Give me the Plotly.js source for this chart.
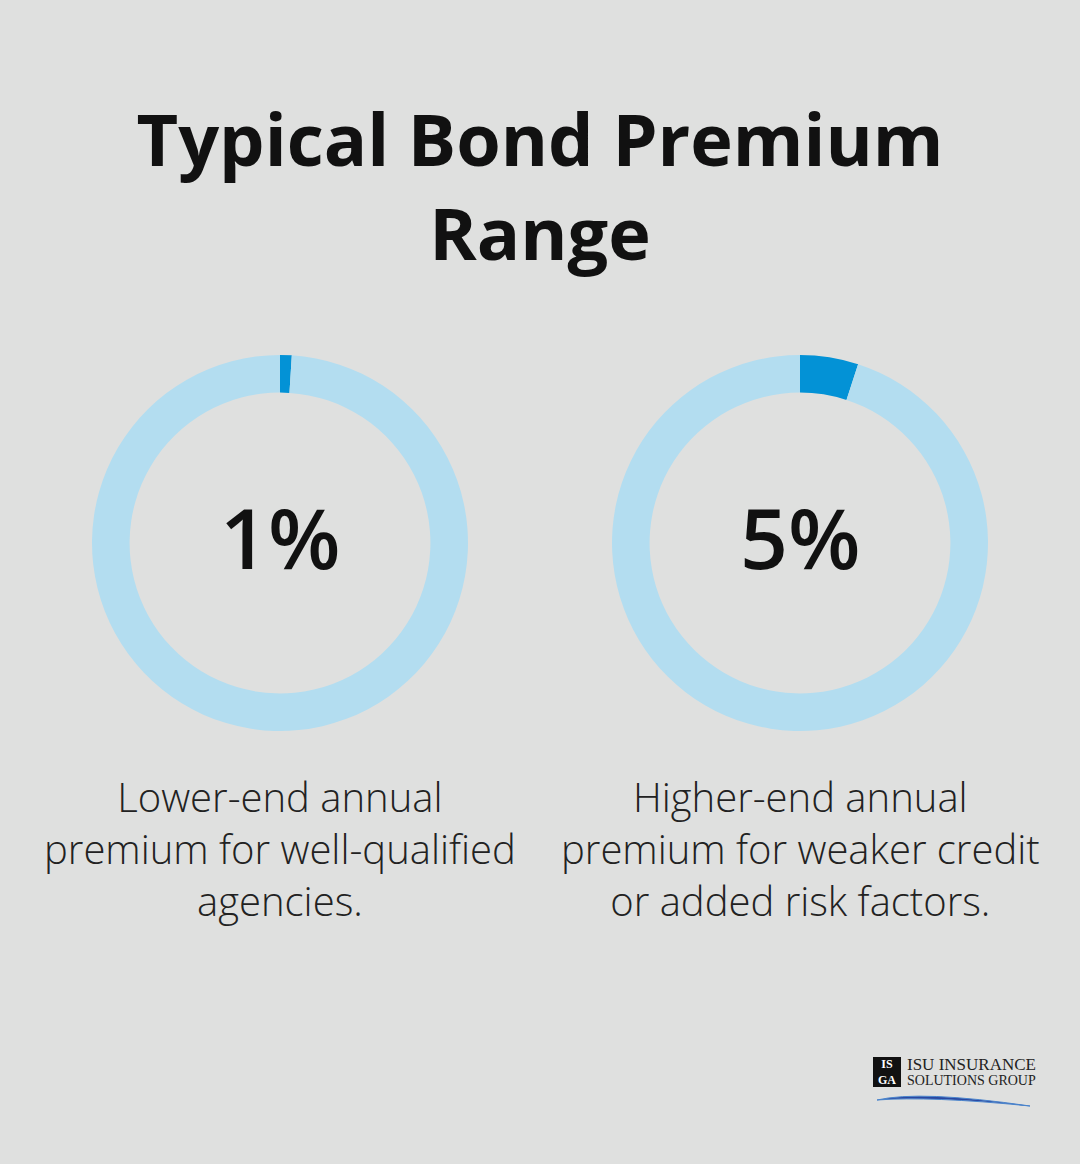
<!DOCTYPE html>
<html>
<head>
<meta charset="utf-8">
<script src="https://cdn.plot.ly/plotly-3.0.1.min.js"></script>
<style>
html,body{margin:0;padding:0;background:#dfe0df;}
#chart{width:1080px;height:1164px;}
</style>
</head>
<body>
<div id="chart"></div>
<script>
const chartTitle = "Typical Bond Premium<br>Range";
const metricLabels = ["1%", "5%"];
const premiumValues = [1, 5];
const remainderValues = [99, 95];
const descriptions = [
  "Lower-end annual<br>premium for well-qualified<br>agencies.",
  "Higher-end annual<br>premium for weaker credit<br>or added risk factors."
];
const sliceNames = ["Premium", "Remainder"];

const W = 1080, H = 1164;
const domainsX = [[92 / W, 468 / W], [612 / W, 988 / W]];
const domainY = [(H - 731) / H, (H - 355) / H];
const centersX = [280 / W, 800 / W];

const traces = premiumValues.map((v, i) => ({
  type: "pie",
  values: [v, remainderValues[i]],
  labels: sliceNames,
  sort: false,
  direction: "clockwise",
  rotation: 0,
  hole: 0.8,
  textinfo: "none",
  hoverinfo: "none",
  marker: { colors: ["#0392d6", "#b3ddf0"], line: { width: 0 } },
  domain: { x: domainsX[i], y: domainY },
  showlegend: false
}));

const annotations = [];
metricLabels.forEach((t, i) => {
  annotations.push({
    text: t, x: centersX[i], y: (H - 536) / H, xref: "paper", yref: "paper",
    showarrow: false, xanchor: "center", yanchor: "middle",
    font: { family: "Open Sans", size: 84, color: "#111111", weight: 600 }
  });
  annotations.push({
    text: descriptions[i], x: centersX[i], y: (H - 767) / H, xref: "paper", yref: "paper",
    showarrow: false, xanchor: "center", yanchor: "top", align: "center",
    font: { family: "Open Sans", size: 40, color: "#222222", weight: 300 }
  });
});

// logo
annotations.push({
  text: "ISU INSURANCE", x: 905 / W, y: (H - 1064) / H, xref: "paper", yref: "paper",
  showarrow: false, xanchor: "left", yanchor: "middle",
  font: { family: "Liberation Serif", size: 17, color: "#222222" }
});
annotations.push({
  text: "SOLUTIONS GROUP", x: 905 / W, y: (H - 1080) / H, xref: "paper", yref: "paper",
  showarrow: false, xanchor: "left", yanchor: "middle",
  font: { family: "Liberation Serif", size: 14, color: "#222222" }
});
annotations.push({
  text: "<b>IS<br>GA</b>", x: 887 / W, y: (H - 1072) / H, xref: "paper", yref: "paper",
  showarrow: false, xanchor: "center", yanchor: "middle",
  font: { family: "Liberation Serif", size: 12, color: "#ffffff" }
});

const shapes = [
  { type: "rect", xref: "paper", yref: "paper",
    x0: 873 / W, x1: 901 / W, y0: (H - 1087) / H, y1: (H - 1057) / H,
    fillcolor: "#111111", line: { width: 0 } },
  { type: "path", xref: "paper", yref: "paper",
    path: `M ${877 / W} ${(H - 1100) / H} Q ${920 / W} ${(H - 1090) / H} ${1030 / W} ${(H - 1106) / H} Q ${930 / W} ${(H - 1096) / H} ${877 / W} ${(H - 1100) / H} Z`,
    fillcolor: "#2a47a0", line: { color: "#4a84cc", width: 1 } }
];

const layout = {
  width: W, height: H,
  margin: { l: 0, r: 0, t: 0, b: 0 },
  paper_bgcolor: "#dfe0df",
  plot_bgcolor: "#dfe0df",
  title: {
    text: chartTitle,
    x: 0.5, xanchor: "center", y: (H - 166) / H, yanchor: "middle",
    font: { family: "Open Sans", size: 72, color: "#111111", weight: 700 }
  },
  annotations: annotations,
  shapes: shapes,
  showlegend: false
};

Plotly.newPlot("chart", traces, layout, { staticPlot: true, displayModeBar: false });
</script>
</body>
</html>
